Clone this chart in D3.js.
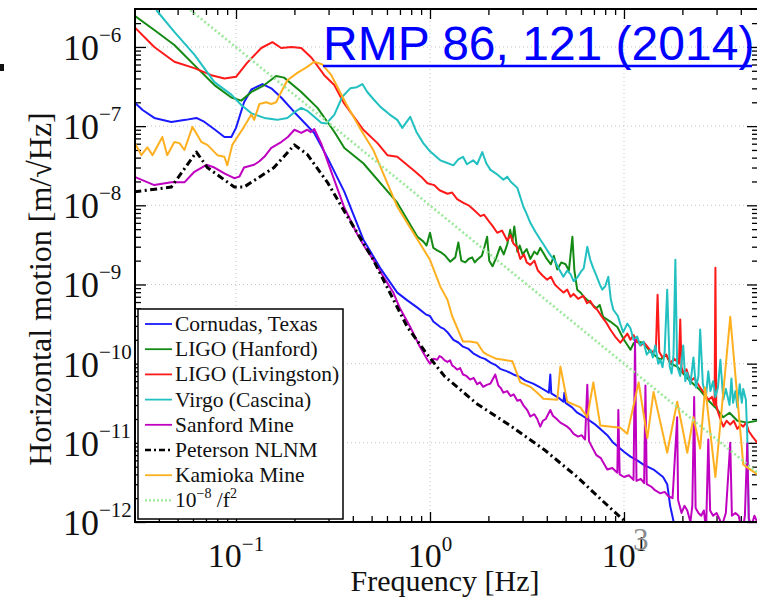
<!DOCTYPE html>
<html><head><meta charset="utf-8">
<script src="https://cdn.jsdelivr.net/npm/d3@7"></script>
<style>
body{margin:0;background:#fff;}
svg{display:block;}
text{font-family:"Liberation Serif","Times New Roman",serif;}
</style>
</head><body>
<svg id="chart" width="757" height="597"></svg>
<script>
// ---------------- data ----------------
const legendLabels = ["Cornudas, Texas","LIGO (Hanford)","LIGO (Livingston)","Virgo (Cascina)","Sanford Mine","Peterson NLNM","Kamioka Mine"];
const seriesColors = ["#1a1aff","#148a14","#ff1a1a","#22c0c0","#c000c0","#000000","#ffb020"];
const refColor = "#9be89b";
const xTickExponents = [-1, 0, 1];
const yTickExponents = [-12, -11, -10, -9, -8, -7, -6];
const titleText = "RMP 86, 121 (2014)";
const xTitle = "Frequency [Hz]";
const yTitle = "Horizontal motion [m/\u221AHz]";

const cornudas = [[0.0299,2.0e-7],[0.033,1.6e-7],[0.0379,1.27e-7],[0.0464,1.13e-7],[0.055,1.2e-7],[0.0625,1.27e-7],[0.0688,1.13e-7],[0.078,9.0e-8],[0.0871,7.3e-8],[0.0946,7.3e-8],[0.1,9.5e-8],[0.11,2.0e-7],[0.12,2.9e-7],[0.137,3.4e-7],[0.152,3.0e-7],[0.171,2.3e-7],[0.2,1.5e-7],[0.253,8.2e-8],[0.296,4.0e-8],[0.362,1.48e-8],[0.453,3.7e-9],[0.555,1.6e-9],[0.678,7.9e-10],[0.764,6.3e-10],[0.861,5.1e-10],[0.95,4.2e-10],[1.0,4.0e-10],[1.04,3.4e-10],[1.13,2.9e-10],[1.18,2.75e-10],[1.23,2.5e-10],[1.32,2.0e-10],[1.4,1.85e-10],[1.48,1.64e-10],[1.57,1.55e-10],[1.67,1.35e-10],[1.82,1.2e-10],[1.92,1.15e-10],[2.05,1.03e-10],[2.18,9.6e-11],[2.3,8.6e-11],[2.5,8.0e-11],[2.69,7.3e-11],[2.9,6.8e-11],[3.1,6.1e-11],[3.4,5.6e-11],[3.7,5.0e-11],[4.1,4.3e-11],[4.17,7.3e-11],[4.22,4.2e-11],[4.6,3.7e-11],[4.87,3.3e-11],[4.93,4.3e-11],[5.0,3.2e-11],[5.4,2.8e-11],[5.74,2.4e-11],[6.1,2.2e-11],[6.47,2.0e-11],[7.0,1.75e-11],[7.55,1.5e-11],[8.2,1.25e-11],[8.81,1.0e-11],[10.0,7.7e-12],[10.8,6.7e-12],[11.7,6.0e-12],[12.6,5.3e-12],[14.2,4.6e-12],[15.9,3.7e-12],[16.7,3.0e-12],[17.3,1.6e-12],[18.4,8e-13]];

const hanford = [[0.0299,2.5e-6],[0.0379,1.64e-6],[0.0481,1.06e-6],[0.061,5.9e-7],[0.0774,3.3e-7],[0.0946,2.3e-7],[0.1065,2.1e-7],[0.12,2.7e-7],[0.14,3.3e-7],[0.161,4.3e-7],[0.177,4.1e-7],[0.217,2.7e-7],[0.263,1.7e-7],[0.321,8.5e-8],[0.362,5.3e-8],[0.453,3.4e-8],[0.678,1.08e-8],[0.861,4.0e-9],[0.923,3.5e-9],[0.96,3.1e-9],[1.0,4.5e-9],[1.04,2.9e-9],[1.09,2.7e-9],[1.15,2.5e-9],[1.2,2.3e-9],[1.27,1.94e-9],[1.35,2.2e-9],[1.4,3.4e-9],[1.45,2.0e-9],[1.52,1.9e-9],[1.58,2.1e-9],[1.65,2.2e-9],[1.7,1.9e-9],[1.75,2.05e-9],[1.85,2.3e-9],[1.91,3.0e-9],[1.97,4.0e-9],[2.02,2.0e-9],[2.1,1.7e-9],[2.2,2.2e-9],[2.3,3.0e-9],[2.4,2.4e-9],[2.5,3.2e-9],[2.59,4.9e-9],[2.66,3.5e-9],[2.72,5.4e-9],[2.82,2.6e-9],[2.9,3.1e-9],[3.0,2.4e-9],[3.15,2.8e-9],[3.29,2.1e-9],[3.45,2.6e-9],[3.57,2.4e-9],[3.7,2.9e-9],[3.84,2.5e-9],[4.0,2.1e-9],[4.2,1.8e-9],[4.35,2.3e-9],[4.53,1.55e-9],[4.75,1.9e-9],[5.0,1.8e-9],[5.2,1.5e-9],[5.42,4.0e-9],[5.55,1.5e-9],[5.74,8.6e-10],[6.0,7.8e-10],[6.2,7.0e-10],[6.45,6.4e-10],[6.7,5.9e-10],[7.2,5.0e-10],[7.5,5.5e-10],[7.8,3.9e-10],[8.5,3.4e-10],[9.24,2.9e-10],[10.0,2.0e-10],[10.8,1.5e-10],[11.2,1.8e-10],[11.6,1.9e-10],[12.6,1.84e-10],[13.7,1.4e-10],[15.4,1.12e-10],[16.5,1.3e-10],[17.3,1.0e-10],[18.8,9.2e-11],[20.2,7.5e-11],[22.0,6.0e-11],[24.7,4.6e-11],[27.0,3.5e-11],[29.6,2.8e-11],[32.5,2.1e-11],[35.0,2.4e-11],[38.4,1.9e-11],[43.2,1.8e-11],[48.7,1.9e-11]];

const livingston = [[0.0299,1.79e-6],[0.0379,1.0e-6],[0.0481,6.5e-7],[0.061,5.4e-7],[0.0747,4.4e-7],[0.0871,4.0e-7],[0.1,4.2e-7],[0.114,6.3e-7],[0.135,9.7e-7],[0.154,1.15e-6],[0.171,9.7e-7],[0.193,1.0e-6],[0.217,9.7e-7],[0.245,7.3e-7],[0.285,4.4e-7],[0.321,3.3e-7],[0.358,2.0e-7],[0.453,9.0e-8],[0.536,6.1e-8],[0.603,4.3e-8],[0.678,4.1e-8],[0.82,2.8e-8],[0.9,2.3e-8],[0.97,1.9e-8],[1.05,1.8e-8],[1.12,1.55e-8],[1.23,1.4e-8],[1.3,1.45e-8],[1.38,1.2e-8],[1.48,1.08e-8],[1.58,1.0e-8],[1.68,8.8e-9],[1.82,7.3e-9],[1.9,7.6e-9],[2.0,6.4e-9],[2.1,5.5e-9],[2.22,4.5e-9],[2.35,4.8e-9],[2.5,3.6e-9],[2.6,4.2e-9],[2.69,3.3e-9],[2.8,3.0e-9],[2.92,2.1e-9],[3.05,2.4e-9],[3.15,1.9e-9],[3.29,1.77e-9],[3.45,2.0e-9],[3.6,1.5e-9],[3.8,1.3e-9],[4.02,1.15e-9],[4.2,1.25e-9],[4.4,1.0e-9],[4.6,9.0e-10],[4.87,7.9e-10],[5.1,8.6e-10],[5.3,7.0e-10],[5.5,7.6e-10],[5.8,6.6e-10],[6.17,7.2e-10],[6.45,5.8e-10],[6.7,6.2e-10],[7.0,5.2e-10],[7.28,4.8e-10],[7.7,3.9e-10],[8.1,3.3e-10],[8.5,2.7e-10],[9.0,2.2e-10],[9.57,1.84e-10],[10.0,2.1e-10],[10.4,2.4e-10],[10.8,2.0e-10],[11.2,2.3e-10],[11.7,1.9e-10],[12.2,1.7e-10],[12.7,1.85e-10],[13.2,1.64e-10],[13.9,1.4e-10],[14.6,1.5e-10],[14.9,7.4e-10],[15.2,1.4e-10],[15.8,1.2e-10],[16.5,1.3e-10],[17.3,1.03e-10],[18.2,1.15e-10],[19.2,1.0e-10],[19.5,3.6e-10],[19.8,9e-11],[20.2,7.7e-11],[21.0,8.5e-11],[22.0,6.0e-11],[23.0,6.6e-11],[24.7,5.0e-11],[26.0,4.2e-11],[27.2,3.5e-11],[28.4,3.8e-11],[29.3,3.0e-11],[29.6,1.63e-9],[29.9,3.0e-11],[30.6,2.4e-11],[31.4,2.0e-11],[32.5,1.6e-11],[33.8,1.9e-11],[35.3,1.7e-11],[36.8,1.9e-11],[38.4,1.5e-11],[40.0,1.7e-11],[41.2,1.6e-11],[42.6,1.8e-11],[44.0,1.4e-11],[46.0,1.2e-11],[48.7,1.0e-11]];

const virgo = [[0.0388,2.93e-6],[0.0481,1.55e-6],[0.061,8.0e-7],[0.0774,3.6e-7],[0.0946,2.5e-7],[0.1065,1.85e-7],[0.12,1.45e-7],[0.14,1.27e-7],[0.163,1.2e-7],[0.184,1.27e-7],[0.2,1.5e-7],[0.217,1.7e-7],[0.233,1.56e-7],[0.275,1.1e-7],[0.292,1.08e-7],[0.321,1.39e-7],[0.353,2.35e-7],[0.388,3.0e-7],[0.42,3.1e-7],[0.448,3.4e-7],[0.475,2.7e-7],[0.51,2.2e-7],[0.555,1.75e-7],[0.62,1.4e-7],[0.678,1.2e-7],[0.72,9.5e-8],[0.791,1.31e-7],[0.85,8.5e-8],[0.923,6.1e-8],[1.0,4.8e-8],[1.13,3.7e-8],[1.2,3.5e-8],[1.32,3.2e-8],[1.4,3.8e-8],[1.48,4.1e-8],[1.55,3.3e-8],[1.67,3.7e-8],[1.75,3.3e-8],[1.86,4.7e-8],[1.95,3.4e-8],[2.05,2.8e-8],[2.2,2.5e-8],[2.39,2.1e-8],[2.5,2.3e-8],[2.6,2.0e-8],[2.82,1.66e-8],[3.03,9.6e-9],[3.15,7.8e-9],[3.29,6.0e-9],[3.5,4.6e-9],[3.7,3.7e-9],[3.85,3.2e-9],[4.02,2.7e-9],[4.2,2.3e-9],[4.4,2.0e-9],[4.6,1.6e-9],[4.87,1.25e-9],[5.1,1.5e-9],[5.3,1.35e-9],[5.5,1.1e-9],[5.74,1.22e-9],[6.0,1.45e-9],[6.2,1.6e-9],[6.47,3.0e-9],[6.7,2.05e-9],[6.95,1.6e-9],[7.2,1.3e-9],[7.5,1.0e-9],[7.73,8.6e-10],[8.0,9.5e-10],[8.3,1.25e-9],[8.55,6.5e-10],[8.81,4.8e-10],[9.3,4.0e-10],[9.6,3.1e-10],[9.91,2.5e-10],[10.4,3.2e-10],[10.8,2.8e-10],[11.2,2.0e-10],[11.7,2.2e-10],[12.1,1.7e-10],[12.6,1.9e-10],[13.1,1.3e-10],[13.7,1.5e-10],[14.1,1.2e-10],[14.5,1.7e-10],[15.0,1.0e-10],[15.4,1.12e-10],[15.8,9.0e-11],[16.2,1.4e-10],[16.7,8.6e-10],[17.2,9.2e-11],[17.6,7.5e-11],[18.0,1.3e-10],[18.4,2.05e-9],[18.8,9.2e-11],[19.5,7.0e-11],[20.2,1.7e-10],[20.7,6.0e-11],[21.2,7.7e-11],[22.0,5.5e-11],[22.8,1.2e-10],[23.5,5.0e-11],[24.2,7.0e-11],[24.7,2.7e-10],[25.5,5.5e-11],[26.5,4.0e-11],[27.2,8.0e-11],[27.9,4.5e-11],[28.8,6.0e-11],[29.6,3.8e-11],[30.5,5.0e-11],[31.4,1.12e-10],[32.5,3.5e-11],[33.5,4.8e-11],[35.0,3.0e-11],[35.8,6.5e-11],[36.5,3.2e-11],[37.5,4.5e-11],[38.4,2.8e-11],[39.5,5.5e-11],[40.5,3.2e-11],[41.2,4.8e-11],[42.5,3.5e-11],[43.2,1.2e-11],[44.0,1.0e-12],[44.5,8e-13]];

const sanford = [[0.0299,2.3e-8],[0.0379,1.8e-8],[0.0464,1.95e-8],[0.0542,1.95e-8],[0.061,2.65e-8],[0.0704,3.25e-8],[0.0774,3.0e-8],[0.088,2.5e-8],[0.098,2.2e-8],[0.104,2.3e-8],[0.11,3.0e-8],[0.124,3.25e-8],[0.132,3.6e-8],[0.14,4.1e-8],[0.152,5.3e-8],[0.171,6.3e-8],[0.185,7.3e-8],[0.2,9.0e-8],[0.217,8.2e-8],[0.233,9.0e-8],[0.243,8.4e-8],[0.253,9.2e-8],[0.275,6.0e-8],[0.31,2.65e-8],[0.362,9.3e-9],[0.42,4.4e-9],[0.46,3.0e-9],[0.51,2.05e-9],[0.57,1.3e-9],[0.647,7.9e-10],[0.7,5.0e-10],[0.791,2.9e-10],[0.88,1.7e-10],[0.969,1.12e-10],[1.0,1.0e-10],[1.04,1.15e-10],[1.09,1.12e-10],[1.12,1.25e-10],[1.15,1.2e-10],[1.19,1.1e-10],[1.23,1.05e-10],[1.27,1.1e-10],[1.3,9.5e-11],[1.34,9.0e-11],[1.38,8.4e-11],[1.43,8.8e-11],[1.48,7.3e-11],[1.54,7.0e-11],[1.61,6.3e-11],[1.68,6.6e-11],[1.75,5.5e-11],[1.81,5.8e-11],[1.88,5.1e-11],[1.96,5.4e-11],[2.05,5.6e-11],[2.17,7.3e-11],[2.25,5.3e-11],[2.32,4.9e-11],[2.39,4.3e-11],[2.5,4.5e-11],[2.6,3.9e-11],[2.7,4.1e-11],[2.82,3.4e-11],[2.92,3.5e-11],[3.05,2.9e-11],[3.17,2.6e-11],[3.29,2.15e-11],[3.45,2.3e-11],[3.57,2.0e-11],[3.7,1.6e-11],[3.82,1.9e-11],[3.95,2.0e-11],[4.17,2.6e-11],[4.3,2.2e-11],[4.5,2.0e-11],[4.7,1.8e-11],[4.9,1.7e-11],[5.1,1.6e-11],[5.29,1.47e-11],[5.5,1.3e-11],[5.8,1.2e-11],[6.05,1.25e-11],[6.3,1.1e-11],[6.47,5.4e-11],[6.6,1.05e-11],[6.9,8.5e-12],[7.2,7e-12],[7.6,6.4e-12],[8.2,4.6e-12],[8.7,4.8e-12],[9.24,4.2e-12],[9.35,2.6e-11],[9.5,4.0e-12],[10.0,3.7e-12],[10.6,3.9e-12],[11.2,3.4e-12],[11.4,2.0e-10],[11.6,3.3e-12],[12.2,3.5e-12],[12.7,3.1e-12],[12.9,5.3e-11],[13.1,3.0e-12],[13.8,2.8e-12],[14.5,2.5e-12],[15.4,2.3e-12],[16.2,2.4e-12],[17.0,2.1e-12],[17.8,2.0e-12],[18.8,2.1e-11],[19.0,1.9e-12],[19.8,1.3e-12],[20.5,1.6e-12],[21.2,1.4e-12],[22.0,1.0e-12],[22.5,1.6e-12],[23.0,3.8e-11],[23.4,1.5e-12],[24.2,1.3e-12],[25.0,1.2e-12],[25.8,1.4e-12],[26.5,8e-13],[27.2,1.1e-11],[27.8,1.4e-12],[28.8,1.2e-12],[30.0,1.3e-12],[31.0,1.1e-12],[32.0,9e-13],[33.5,1.3e-12],[35.3,1.0e-11],[36.0,1.2e-12],[37.5,1.3e-12],[39.0,1.2e-12],[40.0,9e-13],[41.0,8e-13],[42.0,1.2e-12],[43.2,9.8e-12],[44.0,1.1e-12],[45.5,9e-13],[47.0,1.2e-12],[48.7,1.0e-12]];

const peterson = [[0.0299,1.48e-8],[0.0464,1.7e-8],[0.0625,4.7e-8],[0.0712,3.0e-8],[0.098,1.7e-8],[0.11,1.7e-8],[0.157,3.0e-8],[0.2,5.8e-8],[0.233,4.4e-8],[0.296,1.95e-8],[0.353,9.3e-9],[0.51,2.05e-9],[0.764,2.9e-10],[0.969,1.3e-10],[1.19,6.9e-11],[1.75,3.1e-11],[2.59,1.65e-11],[3.88,8.2e-12],[5.74,3.7e-12],[8.5,1.5e-12],[10.0,1.05e-12]];

const kamioka = [[0.0299,6.3e-8],[0.0325,4.3e-8],[0.0349,5.4e-8],[0.0371,4.3e-8],[0.0417,7.3e-8],[0.0442,4.3e-8],[0.0481,6.3e-8],[0.0511,6.1e-8],[0.0542,5.0e-8],[0.0596,9.8e-8],[0.0663,6.3e-8],[0.0712,5.8e-8],[0.0802,4.3e-8],[0.0871,4.1e-8],[0.0902,3.2e-8],[0.0957,5.8e-8],[0.1016,7.3e-8],[0.11,9.8e-8],[0.12,1.4e-7],[0.124,1.2e-7],[0.132,1.9e-7],[0.143,2.0e-7],[0.152,1.9e-7],[0.161,2.0e-7],[0.171,2.7e-7],[0.184,3.8e-7],[0.207,4.7e-7],[0.233,5.6e-7],[0.253,6.5e-7],[0.279,6.0e-7],[0.31,4.4e-7],[0.37,1.9e-7],[0.44,9.0e-8],[0.51,5.0e-8],[0.678,9.6e-9],[0.82,4.5e-9],[1.0,2.05e-9],[1.13,9.4e-10],[1.23,6.4e-10],[1.3,4.0e-10],[1.48,1.9e-10],[1.6,1.9e-10],[1.75,1.84e-10],[1.88,1.4e-10],[1.97,1.3e-10],[2.2,1.15e-10],[2.39,1.12e-10],[2.66,1.07e-10],[2.92,5.8e-11],[3.29,5.1e-11],[3.57,4.3e-11],[3.84,3.6e-11],[4.53,3.5e-11],[4.7,9.2e-11],[5.1,3.3e-11],[5.96,2.8e-11],[6.47,2.1e-11],[6.95,5.8e-11],[7.55,1.65e-11],[9.57,1.55e-11],[10.4,1.3e-11],[11.9,5.8e-11],[13.2,1.15e-11],[14.2,4.4e-11],[16.7,7.5e-12],[18.8,3.3e-11],[21.2,7.5e-12],[22.8,2.1e-11],[24.7,8.5e-12],[26.2,5.0e-11],[29.6,3.7e-12],[35.3,3.9e-10],[41.2,5.3e-12],[48.7,4.0e-12]];

const refFreq = [0.03, 50];
const refValue = [1.1e-5, 4.0e-12];

const allSeries = [cornudas, hanford, livingston, virgo, sanford, peterson, kamioka];

// ---------------- layout ----------------
const svg = d3.select("#chart");
const L = 135, R = 758, T = 9, B = 522;
const x = d3.scaleLog().domain([0.03015, 49.07]).range([L, R]);
const y = d3.scaleLog().domain([1e-12, 3.016e-6]).range([B, T]);

svg.append("defs").append("clipPath").attr("id","plotClip")
  .append("rect").attr("x",L).attr("y",T).attr("width",R-L).attr("height",B-T);

// grid
const xMajor = xTickExponents.map(e => Math.pow(10, e));
const yMajor = yTickExponents.map(e => Math.pow(10, e));
const grid = svg.append("g");
grid.selectAll("line.gx").data(xMajor).join("line")
  .attr("x1", d => x(d)).attr("x2", d => x(d)).attr("y1", T).attr("y2", B)
  .attr("stroke","#c4c4c4").attr("stroke-width",1).attr("stroke-dasharray","1,3");
grid.selectAll("line.gy").data(yMajor.slice(1)).join("line")
  .attr("x1", L).attr("x2", R).attr("y1", d => y(d)).attr("y2", d => y(d))
  .attr("stroke","#c4c4c4").attr("stroke-width",1).attr("stroke-dasharray","1,3");

// minor tick positions
const xMinor = [], yMinor = [];
for (let e = -2; e <= 1; e++) for (let m = 2; m <= 9; m++) { const v = m*Math.pow(10,e); if (v > 0.0302 && v < 49) xMinor.push(v); }
for (let e = -12; e <= -6; e++) for (let m = 2; m <= 9; m++) { const v = m*Math.pow(10,e); if (v < 3.0e-6) yMinor.push(v); }

function axes(sel, axisFn, scale, vals, size, tr) {
  const g = sel.append("g").attr("transform", tr)
    .call(axisFn(scale).tickValues(vals).tickSize(size).tickFormat(""));
  g.select(".domain").remove();
  g.selectAll(".tick line").attr("stroke","#000").attr("stroke-width",1.3);
}
const ax = svg.append("g");
axes(ax, d3.axisBottom, x, xMinor, -6, `translate(0,${B})`);
axes(ax, d3.axisBottom, x, xMajor, -10, `translate(0,${B})`);
axes(ax, d3.axisTop, x, xMinor, -6, `translate(0,${T})`);
axes(ax, d3.axisTop, x, xMajor, -10, `translate(0,${T})`);
axes(ax, d3.axisLeft, y, yMinor, -6, `translate(${L},0)`);
axes(ax, d3.axisLeft, y, yMajor, -11, `translate(${L},0)`);
axes(ax, d3.axisRight, y, yMinor, -6, `translate(${R},0)`);
axes(ax, d3.axisRight, y, yMajor, -11, `translate(${R},0)`);

// series
const line = d3.line().x(d => x(d[0])).y(d => y(d[1]));
const plot = svg.append("g").attr("clip-path","url(#plotClip)");
allSeries.forEach((s, i) => {
  const p = plot.append("path").datum(s).attr("d", line).attr("fill","none")
    .attr("stroke", seriesColors[i]).attr("stroke-width", i === 5 ? 3 : 2)
    .attr("stroke-linejoin","round");
  if (i === 5) p.attr("stroke-dasharray","7,3.5,2,3.5");
});
plot.append("path").datum(refFreq.map((f, i) => [f, refValue[i]])).attr("d", line)
  .attr("fill","none").attr("stroke", refColor).attr("stroke-width",2.6).attr("stroke-dasharray","2,2.5");

// frame
svg.append("rect").attr("x",L).attr("y",T).attr("width",R-L).attr("height",B-T)
  .attr("fill","none").attr("stroke","#000").attr("stroke-width",2);

// y tick labels
yTickExponents.forEach(e => {
  const t = svg.append("text").attr("x", 63).attr("y", y(Math.pow(10,e)) + 13).attr("fill","#111");
  t.append("tspan").attr("font-size", 36).text("10");
  t.append("tspan").attr("font-size", 21).attr("dy", -18).text("\u2212" + Math.abs(e));
});
// x tick labels
xTickExponents.forEach(e => {
  const t = svg.append("text").attr("x", x(Math.pow(10,e))).attr("y", 567)
    .attr("text-anchor","middle").attr("fill","#111");
  t.append("tspan").attr("font-size", 34).text("10");
  t.append("tspan").attr("font-size", 21).attr("dy", -16).text(e < 0 ? "\u2212" + Math.abs(e) : String(e));
});
svg.append("text").attr("x", 633).attr("y", 550).attr("font-size", 31)
  .attr("fill","#8a8a8a").text("3");

// axis titles
svg.append("text").attr("x", 445).attr("y", 591).attr("text-anchor","middle")
  .attr("font-size", 30).attr("fill","#111").text(xTitle);
svg.append("text").attr("transform","translate(51,289) rotate(-90)").attr("text-anchor","middle")
  .attr("font-size", 32).attr("fill","#111").text(yTitle);

// legend
const lg = svg.append("g");
lg.append("rect").attr("x",138).attr("y",309).attr("width",205).attr("height",210)
  .attr("fill","#fff").attr("stroke","#000").attr("stroke-width",1.5);
const rowY = i => 324 + i*25.2;
legendLabels.forEach((lab, i) => {
  const l = lg.append("line").attr("x1",145).attr("x2",172).attr("y1",rowY(i)).attr("y2",rowY(i))
    .attr("stroke", seriesColors[i]).attr("stroke-width", i === 5 ? 2.4 : 1.8);
  if (i === 5) l.attr("stroke-dasharray","6,3,2,3");
  lg.append("text").attr("x",175).attr("y",rowY(i)+7).attr("font-size",21.5).attr("fill","#111").text(lab);
});
lg.append("line").attr("x1",145).attr("x2",172).attr("y1",rowY(7)).attr("y2",rowY(7))
  .attr("stroke", refColor).attr("stroke-width",2.2).attr("stroke-dasharray","2,2");
const rt = lg.append("text").attr("x",175).attr("y",rowY(7)+7).attr("font-size",21.5).attr("fill","#111");
rt.append("tspan").text("10");
rt.append("tspan").attr("font-size",14).attr("dy",-9).text("\u22128");
rt.append("tspan").attr("dy",9).text(" /f");
rt.append("tspan").attr("font-size",14).attr("dy",-9).text("2");

// title link
svg.append("text").attr("x",323).attr("y",60).attr("font-size",48)
  .style("font-family","'Liberation Sans', Arial, sans-serif").attr("fill","#0000ff").text(titleText);
svg.append("line").attr("x1",323).attr("x2",752).attr("y1",66).attr("y2",66)
  .attr("stroke","#0000ff").attr("stroke-width",2.5);

// cropped fragment at left edge
svg.append("rect").attr("x",0).attr("y",64).attr("width",4).attr("height",7).attr("fill","#111");
</script>
</body></html>
